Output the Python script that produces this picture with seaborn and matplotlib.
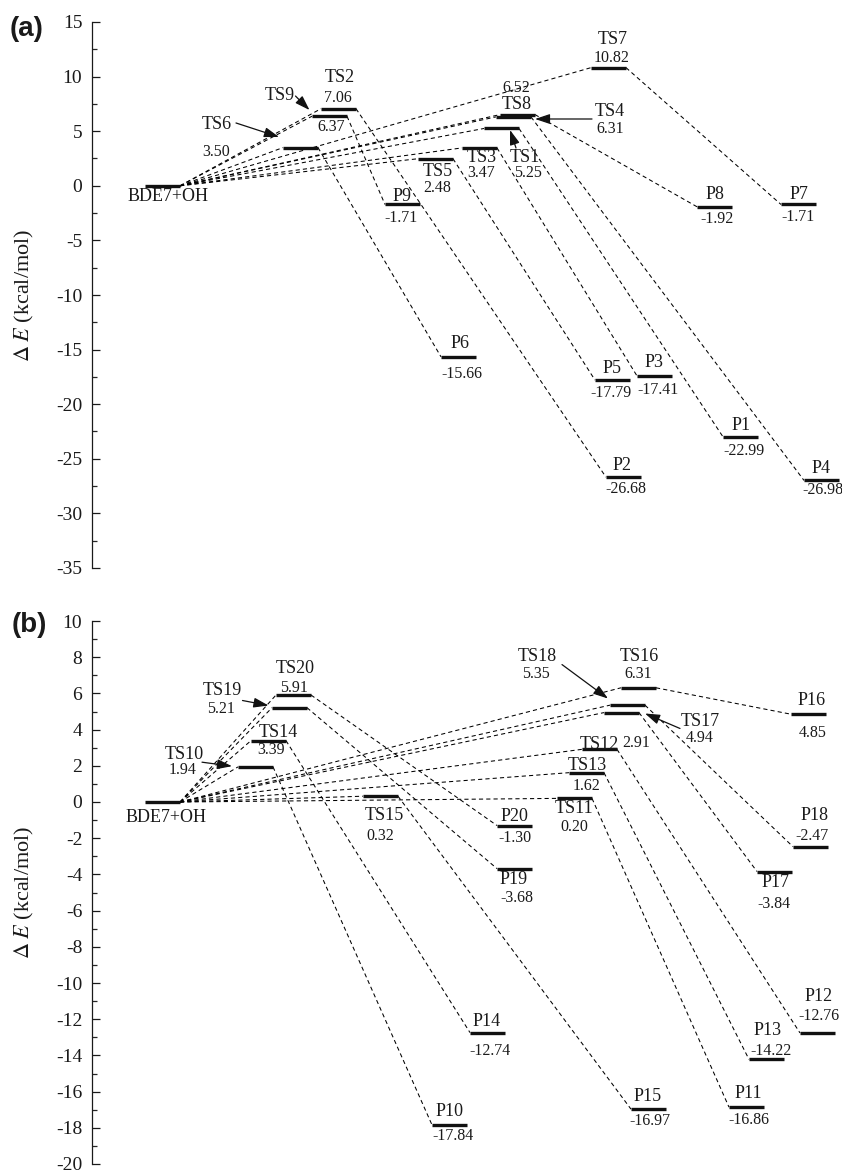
import pandas as pd
import seaborn as sns
from matplotlib import pyplot as plt
from matplotlib.ticker import MultipleLocator

# ---------------- data ----------------
reactant = "BDE7+OH"
reactant_E = 0.0

ts_a = ["TS1", "TS2", "TS3", "TS4", "TS5", "TS6", "TS7", "TS8", "TS9"]
ts_a_E = [5.25, 7.06, 3.47, 6.31, 2.48, 3.50, 10.82, 6.52, 6.37]
p_a = ["P1", "P2", "P3", "P4", "P5", "P6", "P7", "P8", "P9"]
p_a_E = [-22.99, -26.68, -17.41, -26.98, -17.79, -15.66, -1.71, -1.92, -1.71]

ts_b = ["TS10", "TS11", "TS12", "TS13", "TS14", "TS15", "TS16", "TS17", "TS18", "TS19", "TS20"]
ts_b_E = [1.94, 0.20, 2.91, 1.62, 3.39, 0.32, 6.31, 4.94, 5.35, 5.21, 5.91]
p_b = ["P10", "P11", "P12", "P13", "P14", "P15", "P16", "P17", "P18", "P19", "P20"]
p_b_E = [-17.84, -16.86, -12.76, -14.22, -12.74, -16.97, 4.85, -3.84, -2.47, -3.68, -1.30]

# ---------------- layout ----------------
# column position (left end of level) and label offsets in pixels (dx, dy downwards)
W = 35
layout_a = {
    "BDE7+OH": (145, (5.5, 11), None),
    "TS1": (484, (23.5, 29.5), (26.5, 44.5)),
    "TS2": (321, (1, -31.7), (-1, -10.7)),
    "TS3": (462, (2, 10), (2, 25)),
    "TS4": (496, (96.5, -5), (96.5, 12)),
    "TS5": (418, (2.5, 12.3), (1.5, 29.3)),
    "TS6": (283, (-83.5, -22.6), (-84.5, 4.4)),
    "TS7": (591, (4.5, -28), (3.5, -10)),
    "TS8": (500, (-0.5, -10.6), (-1.5, -26.6)),
    "TS9": (312, (-50, -21), (2, 11)),
    "P1": (723, (0.5, -11), (3.5, 14)),
    "P2": (606, (-1, -12), (2, 12)),
    "P3": (637, (0, -13), (4, 14)),
    "P4": (804, (0, -12), (1, 10)),
    "P5": (595, (-0.5, -12), (-1.5, 13)),
    "P6": (441, (1.5, -13), (3.5, 17)),
    "P7": (781, (0, -10), (0, 13)),
    "P8": (697, (0.5, -12), (2.5, 12)),
    "P9": (385, (-0.5, -8), (-1.5, 13.5)),
}
arrows_a = {
    "TS6": ((-64.5, -24.6), (-21.5, -10.6)),
    "TS9": ((-34, -20.2), (-20, -6.2)),
    "TS1": ((14.5, 19.5), (8.5, 1.5)),
    "TS4": ((78.5, 2.1), (21.5, 2.1)),
}
layout_b = {
    "BDE7+OH": (145, (3.5, 16), None),
    "TS10": (238, (-71.5, -12.7), (-72.5, 3)),
    "TS11": (557, (-0.5, 10.6), (-0.5, 28.6)),
    "TS12": (582, (-0.5, -5), (36.5, -6)),
    "TS13": (569, (0.5, -7), (0.5, 13.5)),
    "TS14": (251, (10, -8.3), (3, 9.7)),
    "TS15": (363, (3.5, 18.8), (-0.5, 39.8)),
    "TS16": (621, (1, -31.2), (0, -14.2)),
    "TS17": (604, (78.5, 8.9), (78.5, 25.9)),
    "TS18": (610, (-90.5, -48.6), (-91.5, -31.6)),
    "TS19": (272, (-67, -17.2), (-68, 1.8)),
    "TS20": (276, (1.5, -26.4), (0.5, -7.4)),
    "P10": (432, (0.5, -13.7), (3.5, 11.3)),
    "P11": (729, (1.5, -14), (2.5, 13)),
    "P12": (800, (1, -36), (1, -17)),
    "P13": (749, (1.5, -29), (4.5, -8)),
    "P14": (470, (-0.5, -11), (2.5, 18)),
    "P15": (631, (-0.5, -13), (1.5, 12)),
    "P16": (791, (3.5, -13.7), (4.5, 18.3)),
    "P17": (757, (1, 11), (-1, 32)),
    "P18": (793, (4, -31), (1, -11)),
    "P19": (497, (-0.5, 11), (2.5, 29)),
    "P20": (497, (0, -8.7), (0, 12.3)),
}
arrows_b = {
    "TS10": ((-53.5, -4.7), (-23.5, -0.7)),
    "TS19": ((-47, -7.2), (-21, -2.2)),
    "TS18": ((-65.5, -40.6), (-19.5, -6.6)),
    "TS17": ((58.5, 15.9), (23.5, 0.9)),
}

sns.set_style("ticks")
plt.rcParams["font.family"] = ["Liberation Serif", "DejaVu Serif"]
plt.rcParams["mathtext.fontset"] = "stix"
plt.rcParams["axes.unicode_minus"] = False

DPI = 100
fig = plt.figure(figsize=(8.42, 11.74), dpi=DPI)
ax_a = fig.add_axes([92 / 842, 1 - 568 / 1174, 750 / 842, 546 / 1174])
ax_b = fig.add_axes([92 / 842, 1 - 1164 / 1174, 750 / 842, 543 / 1174])


def to_fig(ax, x, E, dx, dy):
    px, py = ax.transData.transform((x, E))
    return px + dx, py - dy


def draw_panel(ax, ts, ts_E, prods, prods_E, layout, arrows, ylim, major, minor):
    energy = {reactant: reactant_E}
    energy.update(dict(zip(ts, ts_E)))
    energy.update(dict(zip(prods, prods_E)))
    left = {k: v[0] for k, v in layout.items()}

    # dashed connectors: reactant -> TS -> product
    rows = []
    for i, (t, p) in enumerate(zip(ts, prods)):
        rows += [(2 * i, left[reactant] + W, energy[reactant]), (2 * i, left[t], energy[t]),
                 (2 * i + 1, left[t] + W, energy[t]), (2 * i + 1, left[p], energy[p])]
    seg = pd.DataFrame(rows, columns=["seg", "x", "E"])
    sns.lineplot(data=seg, x="x", y="E", units="seg", estimator=None, sort=False,
                 color="black", lw=0.75, linestyle=(0, (4, 3)), ax=ax)

    ax.set_xlim(92, 842)
    ax.set_ylim(*ylim)

    for name, E in energy.items():
        x0, name_off, val_off = layout[name]
        cx = x0 + W / 2
        ax.hlines(E, x0, x0 + W, color="#111111", lw=2.4, zorder=3)
        ax.annotate(name, (cx, E), xytext=(name_off[0] * 0.72, -name_off[1] * 0.72),
                    textcoords="offset points", ha="center", va="center",
                    fontsize=13, color="#1a1a1a")
        if val_off is not None:
            ax.annotate(f"{E:.2f}", (cx, E), xytext=(val_off[0] * 0.72, -val_off[1] * 0.72),
                        textcoords="offset points", ha="center", va="center",
                        fontsize=11.5, color="#1a1a1a")

    for name, (start, tip) in arrows.items():
        cx = left[name] + W / 2
        E = energy[name]
        ax.annotate("", xy=to_fig(ax, cx, E, *tip), xycoords="figure pixels",
                    xytext=to_fig(ax, cx, E, *start), textcoords="figure pixels",
                    arrowprops=dict(arrowstyle="-|>,head_length=0.9,head_width=0.3",
                                    color="#111111", lw=0.9, shrinkA=0, shrinkB=0))

    sns.despine(ax=ax, bottom=True)
    ax.set_xticks([])
    ax.set_xlabel("")
    ax.yaxis.set_major_locator(MultipleLocator(major))
    ax.yaxis.set_minor_locator(MultipleLocator(minor))
    ax.tick_params(axis="y", which="major", direction="in", length=5.8, width=0.9,
                   pad=7, labelsize=14, colors="#1a1a1a")
    ax.tick_params(axis="y", which="minor", direction="in", length=3.6, width=0.9)
    ax.spines["left"].set_linewidth(0.9)
    ax.spines["left"].set_color("#1a1a1a")
    ax.set_ylabel(r"$\Delta\;E$ (kcal/mol)", fontsize=16, color="#1a1a1a")
    ax.yaxis.set_label_coords(-0.0747, 0.5)
    ax.set_facecolor("white")


draw_panel(ax_a, ts_a, ts_a_E, p_a, p_a_E, layout_a, arrows_a, (-35, 15), 5, 2.5)
draw_panel(ax_b, ts_b, ts_b_E, p_b, p_b_E, layout_b, arrows_b, (-20, 10), 2, 1)

fig.text(27 / 842, 1 - 29 / 1174, "(a)", ha="center", va="center", fontsize=20,
         fontweight="bold", family="Liberation Sans", color="#1a1a1a")
fig.text(29 / 842, 1 - 625 / 1174, "(b)", ha="center", va="center", fontsize=20,
         fontweight="bold", family="Liberation Sans", color="#1a1a1a")

fig.savefig("out.png", dpi=DPI, facecolor="white")
